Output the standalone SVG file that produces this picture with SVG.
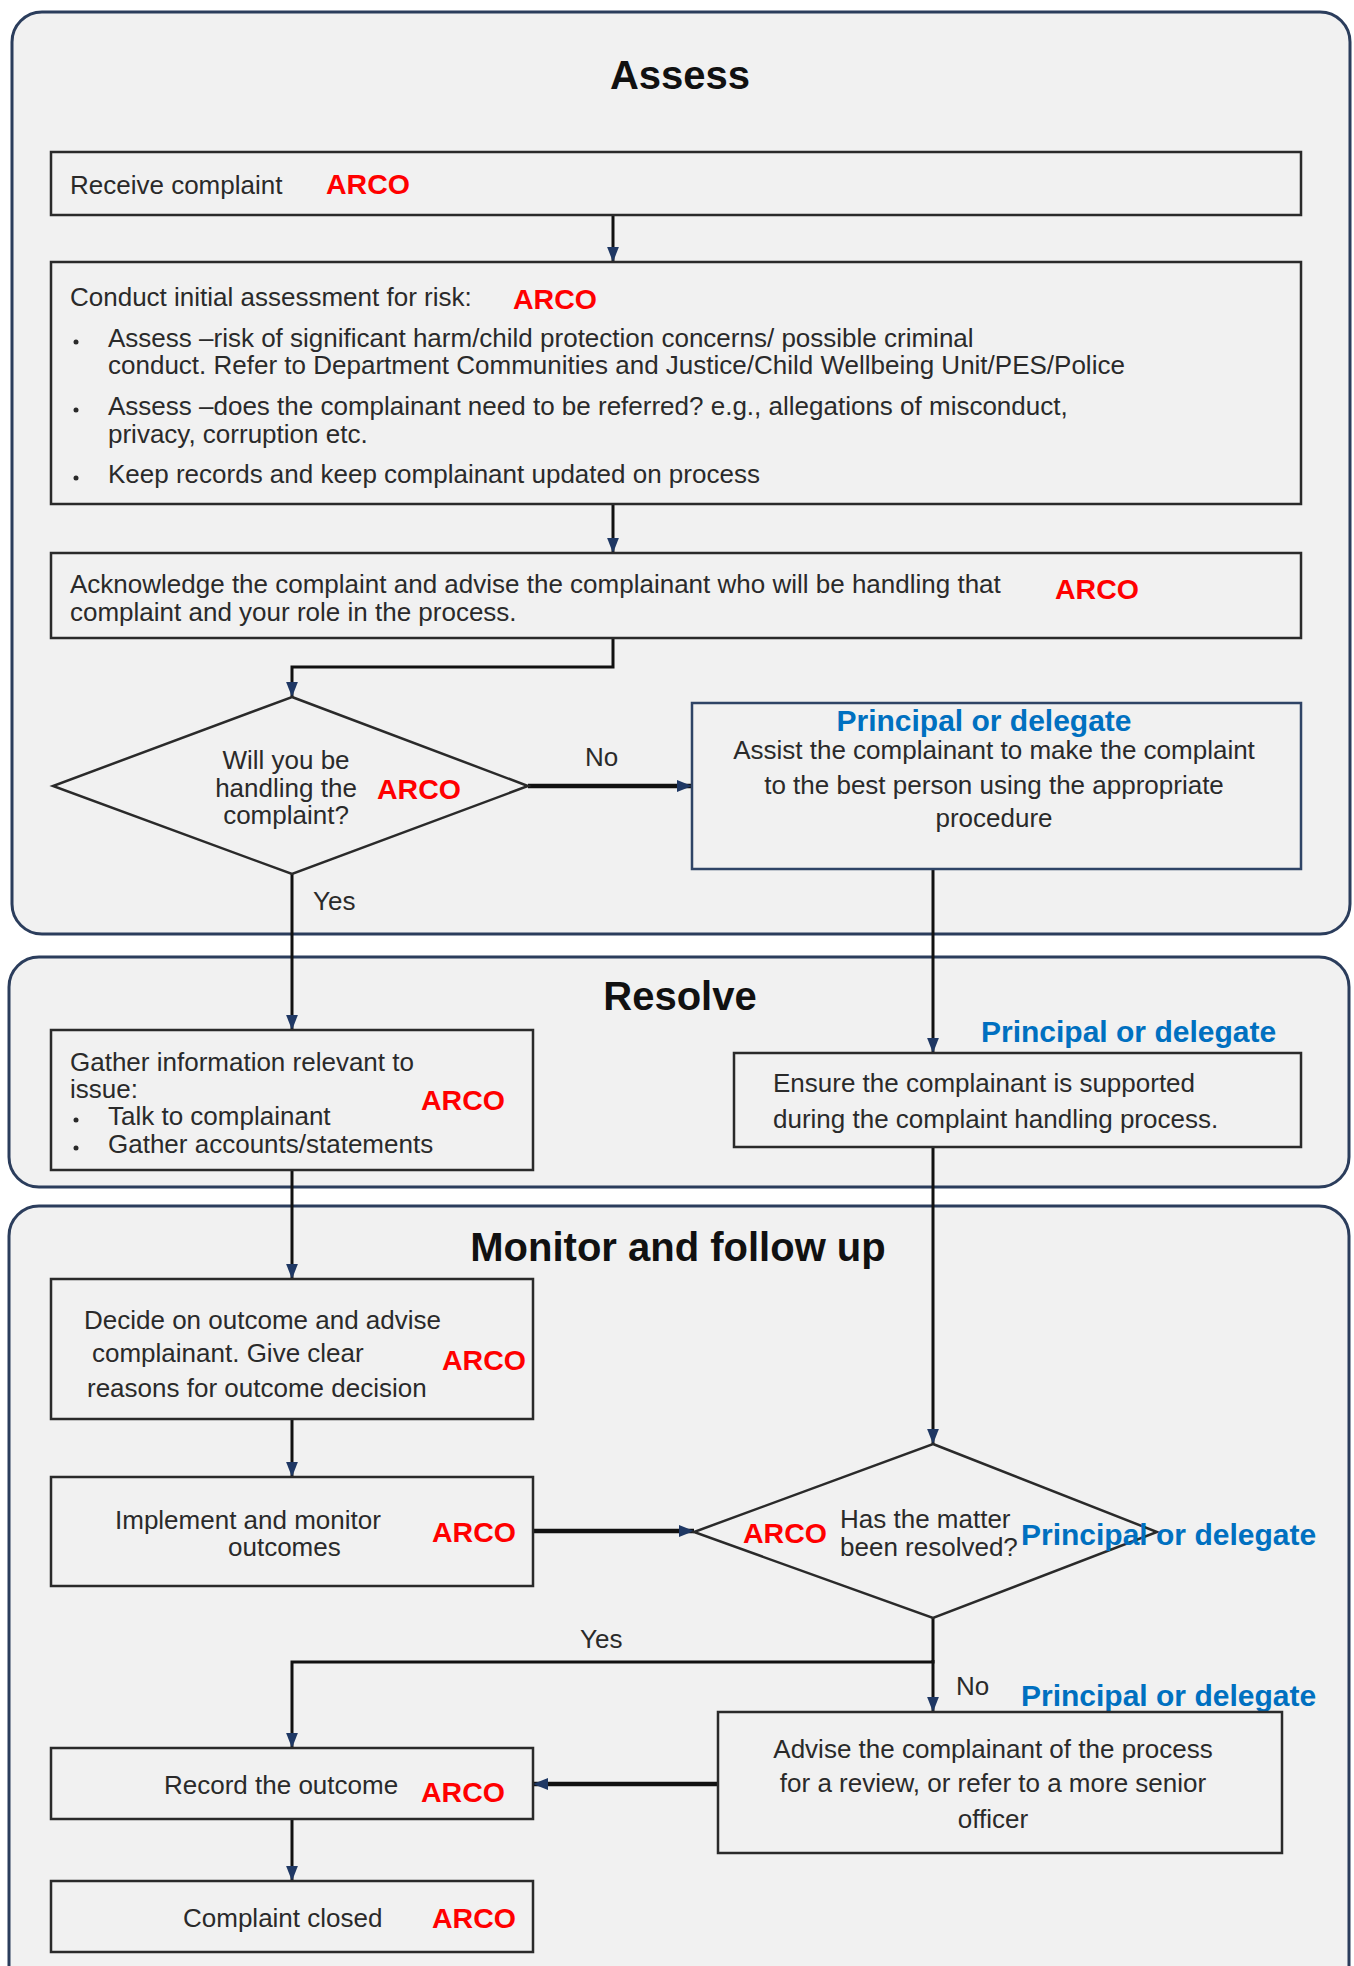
<svg xmlns="http://www.w3.org/2000/svg" width="1354" height="1966" viewBox="0 0 1354 1966">
<defs>
<marker id="ah" viewBox="0 0 14 11" refX="14" refY="5.5" markerWidth="15" markerHeight="12" markerUnits="userSpaceOnUse" orient="auto">
<path d="M0,0 L14,5.5 L0,11 z" fill="#1f3864"/>
</marker>
</defs>
<style>
.panel{fill:#f1f1f1;stroke:#2b3d5c;stroke-width:3}
.box{fill:#f1f1f1;stroke:#2a2a2a;stroke-width:2.5}
.boxb{fill:#f1f1f1;stroke:#2f4466;stroke-width:2.5}
.t{font-family:"Liberation Sans",Arial,sans-serif;font-size:26px;fill:#2a2a2a}
.title{font-family:"Liberation Sans",Arial,sans-serif;font-size:40px;font-weight:bold;fill:#111;text-anchor:middle}
.arco{font-family:"Liberation Sans",Arial,sans-serif;font-size:28.5px;font-weight:bold;fill:#ff0000}
.pd{font-family:"Liberation Sans",Arial,sans-serif;font-size:30px;font-weight:bold;fill:#0070c0}
.c{text-anchor:middle}
.ln{fill:none;stroke:#111;stroke-width:3}
.lnt{fill:none;stroke:#111;stroke-width:4.5}
.arr{marker-end:url(#ah)}
</style>

<g id="panel-assess">
<rect class="panel" x="12" y="12" width="1338" height="922" rx="30"/>
<text class="title" x="680" y="89">Assess</text>
</g>
<g id="panel-resolve">
<rect class="panel" x="9" y="957" width="1340" height="230" rx="30"/>
<text class="title" x="680" y="1010">Resolve</text>
</g>
<g id="panel-monitor">
<rect class="panel" x="9" y="1206" width="1340" height="790" rx="30"/>
<text class="title" x="678" y="1261">Monitor and follow up</text>
</g>

<g id="connectors">
<line class="ln arr" x1="613" y1="215" x2="613" y2="262"/>
<line class="ln arr" x1="613" y1="504" x2="613" y2="553"/>
<polyline class="ln arr" points="613,638 613,667 292,667 292,697"/>
<line class="lnt arr" x1="528" y1="786" x2="692" y2="786"/>
<text class="t" x="585" y="766">No</text>
<line class="ln arr" x1="292" y1="874" x2="292" y2="1030"/>
<text class="t" x="313" y="910">Yes</text>
<line class="ln arr" x1="933" y1="869" x2="933" y2="1053"/>
<line class="ln arr" x1="292" y1="1170" x2="292" y2="1279"/>
<line class="ln arr" x1="933" y1="1147" x2="933" y2="1444"/>
<line class="ln arr" x1="292" y1="1419" x2="292" y2="1477"/>
<line class="lnt arr" x1="533" y1="1531" x2="694" y2="1531"/>
<polyline class="ln arr" points="933,1618 933,1662 292,1662 292,1748"/>
<text class="t" x="580" y="1648">Yes</text>
<line class="ln arr" x1="933" y1="1660" x2="933" y2="1712"/>
<text class="t" x="956" y="1695">No</text>
<line class="lnt arr" x1="718" y1="1784" x2="533" y2="1784"/>
<line class="ln arr" x1="292" y1="1819" x2="292" y2="1881"/>
</g>

<g id="receive">
<rect class="box" x="51" y="152" width="1250" height="63"/>
<text class="t" x="70" y="194">Receive complaint</text>
<text class="arco" x="326" y="194">ARCO</text>
</g>

<g id="conduct">
<rect class="box" x="51" y="262" width="1250" height="242"/>
<text class="t" x="70" y="306">Conduct initial assessment for risk:</text>
<text class="arco" x="513" y="309">ARCO</text>
<circle cx="76" cy="342" r="2.5" fill="#2a2a2a"/>
<text class="t" x="108" y="347">Assess –risk of significant harm/child protection concerns/ possible criminal</text>
<text class="t" x="108" y="374">conduct. Refer to Department Communities and Justice/Child Wellbeing Unit/PES/Police</text>
<circle cx="76" cy="410" r="2.5" fill="#2a2a2a"/>
<text class="t" x="108" y="415">Assess –does the complainant need to be referred? e.g., allegations of misconduct,</text>
<text class="t" x="108" y="443">privacy, corruption etc.</text>
<circle cx="76" cy="478" r="2.5" fill="#2a2a2a"/>
<text class="t" x="108" y="483">Keep records and keep complainant updated on process</text>
</g>

<g id="acknowledge">
<rect class="box" x="51" y="553" width="1250" height="85"/>
<text class="t" x="70" y="593">Acknowledge the complaint and advise the complainant who will be handling that</text>
<text class="t" x="70" y="621">complaint and your role in the process.</text>
<text class="arco" x="1055" y="599">ARCO</text>
</g>

<g id="decision-handling">
<polygon class="box" points="292,697 528,786 292,874 53,786"/>
<text class="t c" x="286" y="769">Will you be</text>
<text class="t c" x="286" y="797">handling the</text>
<text class="t c" x="286" y="824">complaint?</text>
<text class="arco" x="377" y="799">ARCO</text>
</g>

<g id="assist">
<rect class="boxb" x="692" y="703" width="609" height="166"/>
<text class="pd c" x="984" y="731">Principal or delegate</text>
<text class="t c" x="994" y="759">Assist the complainant to make the complaint</text>
<text class="t c" x="994" y="794">to the best person using the appropriate</text>
<text class="t c" x="994" y="827">procedure</text>
</g>

<g id="gather">
<rect class="box" x="51" y="1030" width="482" height="140"/>
<text class="t" x="70" y="1071">Gather information relevant to</text>
<text class="t" x="70" y="1098">issue:</text>
<circle cx="76" cy="1120" r="2.5" fill="#2a2a2a"/>
<text class="t" x="108" y="1125">Talk to complainant</text>
<circle cx="76" cy="1148" r="2.5" fill="#2a2a2a"/>
<text class="t" x="108" y="1153">Gather accounts/statements</text>
<text class="arco" x="421" y="1110">ARCO</text>
</g>

<g id="ensure">
<text class="pd" x="981" y="1042">Principal or delegate</text>
<rect class="box" x="734" y="1053" width="567" height="94"/>
<text class="t" x="773" y="1092">Ensure the complainant is supported</text>
<text class="t" x="773" y="1128">during the complaint handling process.</text>
</g>

<g id="decide">
<rect class="box" x="51" y="1279" width="482" height="140"/>
<text class="t" x="84" y="1329">Decide on outcome and advise</text>
<text class="t" x="92" y="1362">complainant. Give clear</text>
<text class="t" x="87" y="1397">reasons for outcome decision</text>
<text class="arco" x="442" y="1370">ARCO</text>
</g>

<g id="implement">
<rect class="box" x="51" y="1477" width="482" height="109"/>
<text class="t" x="115" y="1529">Implement and monitor</text>
<text class="t" x="228" y="1556">outcomes</text>
<text class="arco" x="432" y="1542">ARCO</text>
</g>

<g id="decision-resolved">
<polygon class="box" points="933,1444 1157,1532 933,1618 694,1532"/>
<text class="arco" x="743" y="1543">ARCO</text>
<text class="t" x="840" y="1528">Has the matter</text>
<text class="t" x="840" y="1556">been resolved?</text>
<text class="pd" x="1021" y="1545">Principal or delegate</text>
</g>

<g id="advise">
<text class="pd" x="1021" y="1706">Principal or delegate</text>
<rect class="box" x="718" y="1712" width="564" height="141"/>
<text class="t c" x="993" y="1758">Advise the complainant of the process</text>
<text class="t c" x="993" y="1792">for a review, or refer to a more senior</text>
<text class="t c" x="993" y="1828">officer</text>
</g>

<g id="record">
<rect class="box" x="51" y="1748" width="482" height="71"/>
<text class="t" x="164" y="1794">Record the outcome</text>
<text class="arco" x="421" y="1802">ARCO</text>
</g>

<g id="closed">
<rect class="box" x="51" y="1881" width="482" height="71"/>
<text class="t" x="183" y="1927">Complaint closed</text>
<text class="arco" x="432" y="1928">ARCO</text>
</g>
</svg>
